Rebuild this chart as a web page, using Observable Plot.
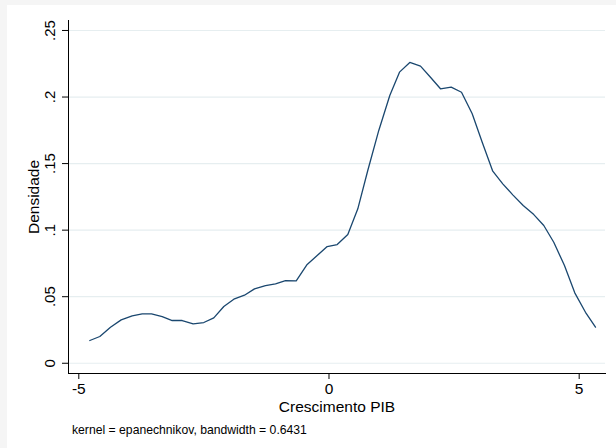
<!DOCTYPE html>
<html>
<head>
<meta charset="utf-8">
<script src="https://cdn.jsdelivr.net/npm/d3@7"></script>
<script src="https://cdn.jsdelivr.net/npm/@observablehq/plot@0.6"></script>
<style>
  html, body { margin: 0; padding: 0; }
  body { background: #f5f5f5; }
  #wrap { position: relative; width: 616px; height: 448px; background: #f5f5f5; overflow: hidden; font-family: "Liberation Sans", Arial, sans-serif; }
  #panel { position: absolute; left: 7px; top: 5px; right: 0; bottom: 0; background: #ffffff; }
  #chart { position: absolute; left: 0; top: 0; }
  #note { position: absolute; left: 72px; top: 424px; font-size: 12.2px; line-height: 12px; color: #000; white-space: nowrap; }
</style>
</head>
<body>
<div id="wrap">
  <div id="panel"></div>
  <div id="chart"></div>
  <div id="note"></div>
</div>
<script>
// Kernel density estimate points (Crescimento PIB vs Densidade)
const growth = [-4.780, -4.580, -4.367, -4.153, -3.933, -3.733, -3.547, -3.333, -3.133, -2.934,
  -2.714, -2.502, -2.302, -2.102, -1.902, -1.689, -1.489, -1.269, -1.069, -0.869,
  -0.655, -0.436, -0.236, -0.036, 0.164, 0.376, 0.576, 0.775, 0.995, 1.215,
  1.409, 1.615, 1.829, 2.028, 2.228, 2.442, 2.648, 2.862, 3.062, 3.273,
  3.473, 3.673, 3.881, 4.093, 4.293, 4.492, 4.706, 4.912, 5.126, 5.326];
const density = [0.0171, 0.0201, 0.0271, 0.0326, 0.0356, 0.0371, 0.0371, 0.0351, 0.0321, 0.0321,
  0.0296, 0.0306, 0.0341, 0.0426, 0.0481, 0.0511, 0.0559, 0.0584, 0.0597, 0.0621,
  0.0619, 0.0742, 0.0809, 0.0877, 0.0892, 0.0967, 0.1160, 0.1448, 0.1749, 0.2012,
  0.2187, 0.2260, 0.2232, 0.2149, 0.2062, 0.2074, 0.2036, 0.1874, 0.1661, 0.1443,
  0.1348, 0.1265, 0.1185, 0.1117, 0.1035, 0.0909, 0.0734, 0.0529, 0.0383, 0.0271];

const xTicks = [-5, 0, 5];
const xTickLabels = ["-5", "0", "5"];
const yTicks = [0, 0.05, 0.1, 0.15, 0.2, 0.25];
const yTickLabels = ["0", ".05", ".1", ".15", ".2", ".25"];
const xTitle = "Crescimento PIB";
const yTitle = "Densidade";
const noteText = "kernel = epanechnikov, bandwidth = 0.6431";

const xDomain = [-5.206, 5.526];
const yDomain = [-0.0077, 0.2575];

const data = growth.map((g, i) => ({x: g, y: density[i]}));
const yLabelRows = yTicks.map((v, i) => ({v, label: yTickLabels[i]}));

const font = "'Liberation Sans', Arial, sans-serif";

const chart = Plot.plot({
  width: 616,
  height: 448,
  marginLeft: 68,
  marginRight: 11,
  marginTop: 20,
  marginBottom: 75,
  style: {background: "transparent", fontFamily: font, color: "#000", overflow: "visible"},
  x: {domain: xDomain, label: null},
  y: {domain: yDomain, label: null},
  marks: [
    Plot.gridY(yTicks, {stroke: "#e6eef0", strokeOpacity: 1, strokeWidth: 1.2}),
    Plot.axisX({ticks: xTicks, tickSize: 6, tickPadding: 3, fontSize: 15.5, stroke: "#000",
      tickFormat: (d) => xTickLabels[xTicks.indexOf(d)], label: null}),
    Plot.axisY({ticks: yTicks, tickSize: 6, tickFormat: () => "", stroke: "#000", label: null}),
    Plot.text(yLabelRows, {y: "v", text: "label", frameAnchor: "left", dx: -18, rotate: -90,
      textAnchor: "middle", lineAnchor: "middle", fontSize: 15, fill: "#000"}),
    Plot.text([yTitle], {text: (d) => d, frameAnchor: "left", dx: -34, rotate: -90,
      textAnchor: "middle", lineAnchor: "middle", fontSize: 15.5, fill: "#000"}),
    Plot.text([xTitle], {text: (d) => d, frameAnchor: "bottom", dy: 34,
      textAnchor: "middle", lineAnchor: "middle", fontSize: 15.5, fill: "#000"}),
    Plot.frame({anchor: "left", stroke: "#000", strokeWidth: 1}),
    Plot.frame({anchor: "bottom", stroke: "#000", strokeWidth: 1}),
    Plot.line(data, {x: "x", y: "y", stroke: "#1a476f", strokeWidth: 1.3})
  ]
});
document.getElementById("chart").appendChild(chart);
document.getElementById("note").textContent = noteText;
</script>
</body>
</html>
